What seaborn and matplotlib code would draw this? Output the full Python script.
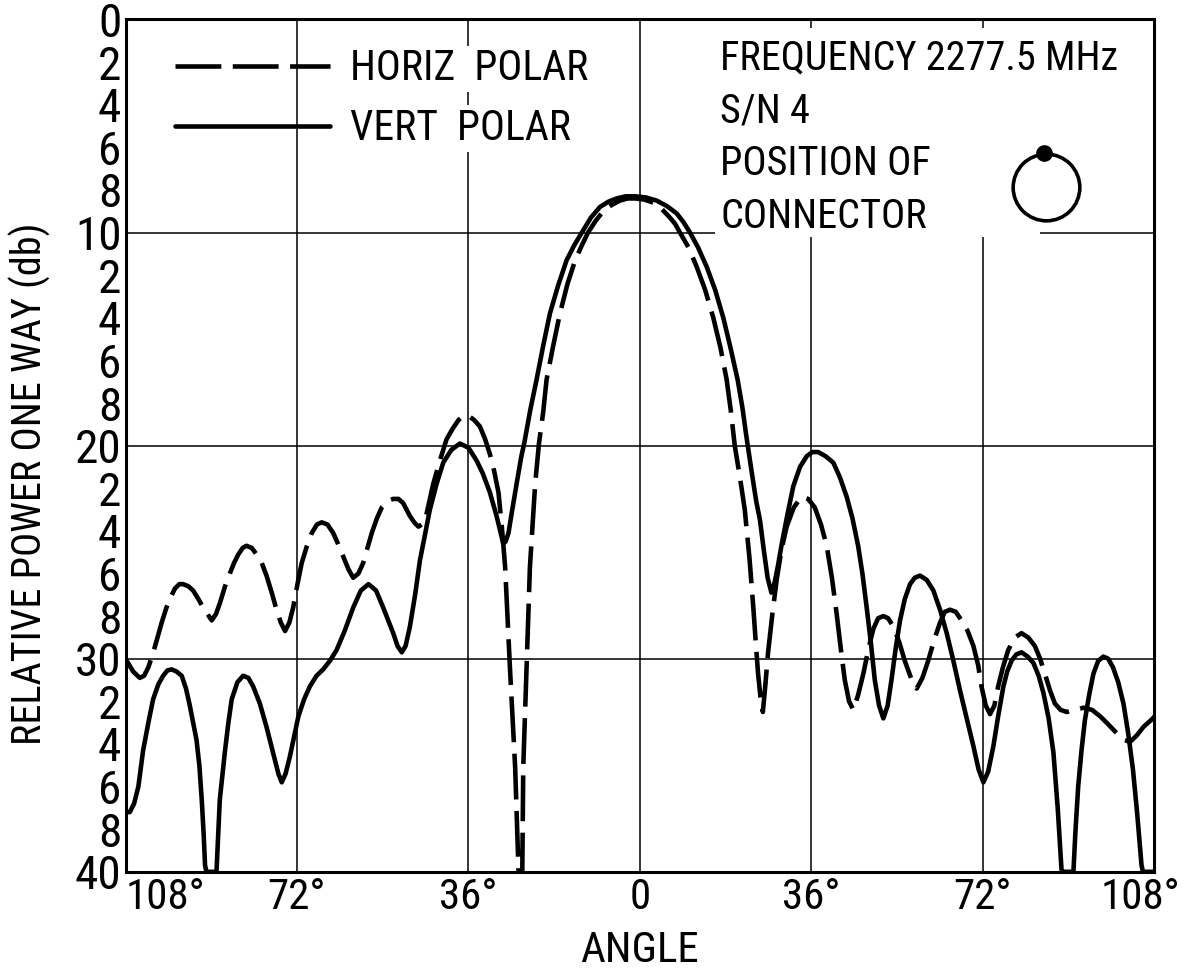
import matplotlib
matplotlib.use("Agg")
import matplotlib.pyplot as plt
import matplotlib.transforms as mtransforms
from matplotlib.patches import Rectangle
import seaborn as sns
import pandas as pd
import numpy as np

# valores (angulo em graus, potencia relativa em db)
vert_angulo = [-108, -107.1, -106.2, -105.3, -104.3, -103.2, -102.2, -101.1, -100.1, -99.2, -98.3,
               -97.3, -96.2, -95.3, -94.5, -93.8, -93.1, -92.5, -92.0, -91.6, -91.3, -91.0, -88.9,
               -88.6, -88.2, -87.1, -86.4, -85.7, -84.5, -83.3, -82.2, -81.2, -79.8, -78.4, -76.8,
               -75.9, -75.2, -74.4, -73.5, -71.7, -70.5, -69.3, -67.9, -66.5, -65.1, -63.7, -62.0,
               -60.2, -58.6, -57.0, -55.4, -53.9, -51.8, -50.9, -50.0, -49.2, -48.3, -47.2, -46.2,
               -44.1, -42.7, -41.3, -39.6, -37.8, -36.0, -34.3, -33.0, -31.5, -30.1, -28.7, -28.2,
               -27.6, -26.8, -25.9, -24.9, -24.3, -23.0, -21.7, -20.3, -18.9, -17.2, -15.4, -13.8,
               -12.2, -10.3, -8.4, -6.6, -4.9, -3.0, -1.0, 1.2, 3.5, 5.6, 7.7, 9.1, 10.5, 12.2,
               14.0, 15.8, 17.5, 19.0, 20.5, 21.5, 22.3, 23.5, 24.4, 25.2, 26.0, 26.8, 27.6, 28.3,
               29.0, 29.7, 30.9, 32.2, 33.6, 35.0, 36.2, 37.4, 39.0, 40.6, 42.0, 43.4, 44.6, 45.8,
               46.7, 47.6, 48.5, 49.3, 50.2, 51.1, 52.0, 52.8, 53.7, 54.6, 55.6, 56.7, 57.7, 58.8,
               60.2, 61.6, 63.0, 64.4, 65.8, 67.2, 68.6, 70.0, 71.1, 72.1, 73.1, 74.2, 75.2, 76.3,
               77.1, 78.0, 79.0, 80.1, 81.4, 82.6, 83.7, 84.7, 85.8, 86.8, 87.7, 88.5, 88.8, 91.0,
               91.4, 92.0, 92.7, 93.4, 94.3, 95.2, 96.2, 97.3, 98.3, 99.3, 100.4, 101.5, 102.5,
               103.5, 104.4, 105.3, 105.6, 108]
vert_db = [37.2, 37.2, 36.8, 36.0, 34.3, 33.0, 31.9, 31.2, 30.8, 30.55, 30.5,
           30.6, 30.8, 31.4, 32.2, 33.0, 33.8, 35.0, 36.6, 38.2, 39.7, 40.0, 40.0,
           38.5, 36.6, 34.3, 33.0, 31.9, 31.1, 30.8, 30.9, 31.3, 32.1, 33.2, 34.6,
           35.4, 35.8, 35.4, 34.6, 32.7, 31.9, 31.3, 30.8, 30.5, 30.1, 29.6, 28.7,
           27.6, 26.8, 26.5, 26.8, 27.6, 28.8, 29.4, 29.7, 29.4, 28.5, 27.0, 25.4,
           23.0, 21.8, 20.8, 20.2, 19.9, 20.1, 20.7, 21.3, 22.2, 23.3, 24.6, 24.5,
           24.1, 23.0, 21.8, 20.5, 19.9, 18.3, 16.9, 15.3, 13.8, 12.5, 11.3, 10.6,
           10.0, 9.3, 8.8, 8.55, 8.4, 8.3, 8.3, 8.35, 8.5, 8.75, 9.1, 9.5, 10.0, 10.7,
           11.6, 12.7, 14.0, 15.4, 16.9, 18.2, 19.5, 21.3, 22.6, 23.5, 24.9, 26.2, 26.9, 26.4,
           25.6, 24.7, 23.3, 21.9, 21.0, 20.5, 20.3, 20.3, 20.5, 20.8, 21.5, 22.4, 23.4, 24.7,
           26.0, 27.6, 29.3, 31.0, 32.2, 32.8, 32.2, 31.0, 29.5, 28.2, 27.2, 26.5, 26.2, 26.1,
           26.3, 26.8, 27.7, 28.8, 30.1, 31.5, 32.8, 34.1, 35.2, 35.8, 35.3, 34.1, 32.7, 31.3,
           30.6, 30.1, 29.8, 29.7, 29.9, 30.2, 30.8, 31.6, 32.8, 34.4, 37.0, 39.9, 40.0, 40.0,
           38.2, 36.0, 34.3, 32.9, 31.7, 30.7, 30.1, 29.9, 30.0, 30.4, 31.1, 32.1, 33.5,
           35.2, 37.3, 39.7, 40.0, 40.0]

horiz_angulo = [-108, -107.2, -106.4, -105.0, -104.1, -103.2, -102.3, -101.4, -100.4, -99.4, -98.5,
                -97.6, -96.7, -95.9, -94.8, -93.8, -92.7, -91.7, -90.8, -89.9, -89.0, -88.2, -87.1,
                -86.1, -85.2, -84.3, -83.4, -82.6, -81.5, -80.5, -79.4, -78.4, -77.3, -76.3, -75.4,
                -74.5, -73.6, -72.8, -71.9, -71.0, -69.9, -68.9, -67.8, -66.8, -65.6, -64.4, -63.4,
                -62.3, -61.2, -60.2, -59.1, -58.1, -57.2, -56.3, -55.2, -54.2, -53.0, -51.8, -50.7,
                -49.7, -48.3, -47.4, -46.5, -45.8, -45.1, -44.3, -43.4, -42.0, -40.6, -39.3, -38.1,
                -37.0, -36.0, -34.8, -33.6, -32.5, -31.5, -30.6, -29.7, -29.0, -28.3, -27.3, -26.2,
                -25.5, -25.3, -24.7, -24.5, -23.8, -23.1, -22.0, -21.2, -20.3, -19.6, -18.2, -16.8,
                -15.2, -13.6, -12.2, -10.9, -9.3, -7.7, -5.9, -4.2, -2.6, -1.0, 0.9, 2.8, 4.6, 6.3,
                7.4, 8.4, 10.2, 11.9, 13.7, 15.4, 16.9, 18.2, 19.1, 19.9, 21.0, 22.0, 23.0, 23.8,
                24.3, 24.8, 25.3, 25.8, 26.3, 26.9, 27.8, 28.7, 29.7, 30.8, 32.3, 33.9, 35.3, 36.7,
                38.0, 39.2, 40.3, 41.3, 42.2, 43.0, 43.9, 44.8, 45.8, 46.9, 48.0, 49.0, 50.0, 51.1,
                52.1, 53.2, 54.4, 55.6, 56.9, 58.1, 59.3, 60.5, 61.8, 63.0, 64.0, 65.1, 66.3, 67.5,
                68.8, 70.0, 71.0, 71.7, 72.6, 73.5, 74.4, 75.2, 76.2, 77.3, 78.7, 80.1, 81.5, 82.9,
                84.0, 85.0, 86.1, 87.1, 88.3, 89.6, 91.3, 93.1, 94.9, 96.6, 98.4, 100.1, 101.5,
                102.9, 104.3, 105.7, 107.7, 108]
horiz_db = [30.0, 30.3, 30.6, 30.9, 30.8, 30.4, 29.8, 29.1, 28.3, 27.6, 27.1,
            26.7, 26.5, 26.5, 26.6, 26.8, 27.2, 27.6, 27.9, 28.2, 27.9, 27.4, 26.6,
            26.0, 25.5, 25.1, 24.8, 24.7, 24.8, 25.1, 25.5, 26.1, 26.9, 27.7, 28.3,
            28.7, 28.3, 27.6, 26.5, 25.5, 24.7, 24.1, 23.7, 23.6, 23.7, 24.1, 24.6,
            25.2, 25.8, 26.2, 26.0, 25.5, 24.8, 24.1, 23.4, 22.9, 22.6, 22.5, 22.5,
            22.7, 23.3, 23.6, 23.8, 23.7, 23.5, 22.7, 21.8, 20.7, 19.7, 19.2, 18.8,
            18.6, 18.6, 18.8, 19.1, 19.7, 20.4, 21.2, 22.2, 23.8, 25.7, 30.4, 35.1,
            39.9, 40.0, 40.0, 35.1, 30.4, 25.7, 21.8, 19.9, 18.4, 16.9, 15.3, 13.8,
            12.4, 11.3, 10.6, 10.0, 9.45, 9.0, 8.7, 8.5, 8.4, 8.4, 8.45, 8.6, 8.9, 9.3,
            9.6, 10.0, 10.7, 11.6, 12.7, 14.0, 15.4, 16.9, 18.4, 20.0, 21.5, 23.0, 25.3, 27.6,
            29.2, 30.7, 31.8, 32.5, 31.3, 29.7, 27.9, 26.3, 24.9, 23.8, 22.9, 22.4, 22.5, 22.9,
            23.7, 24.7, 26.2, 27.9, 29.6, 31.0, 32.0, 32.4, 31.7, 30.7, 29.5, 28.6, 28.1, 28.0,
            28.1, 28.5, 29.2, 30.1, 30.9, 31.4, 30.9, 30.1, 29.1, 28.3, 27.8, 27.7, 27.8, 28.2,
            28.7, 29.4, 30.3, 31.3, 32.2, 32.6, 32.2, 31.3, 30.4, 29.6, 29.0, 28.8, 29.0, 29.4,
            30.0, 30.7, 31.5, 32.1, 32.4, 32.5, 32.4, 32.3, 32.4, 32.7, 33.1, 33.5, 33.8,
            33.9, 33.6, 33.2, 32.8, 32.7]

ticks_x = [-108, -72, -36, 0, 36, 72, 108]
rotulos_x = ['108°', '72°', '36°', '0', '36°', '72°', '108°']
ticks_y = [0, 10, 20, 30, 40]
rotulos_y = ['0', '10', '20', '30', '40']
ticks_y_menores = [v for v in range(2, 40, 2) if v % 10 != 0]
rotulos_y_menores = [str(v % 10) for v in ticks_y_menores]

vert = pd.DataFrame({'angulo': vert_angulo, 'db': vert_db})
horiz = pd.DataFrame({'angulo': horiz_angulo, 'db': horiz_db})

sns.set_style("white")
plt.rcParams['font.family'] = ['Roboto Condensed', 'PT Sans Narrow', 'Archivo Narrow',
                               'Liberation Sans Narrow', 'Roboto', 'DejaVu Sans']
plt.rcParams['text.color'] = 'black'
plt.rcParams['axes.labelcolor'] = 'black'
plt.rcParams['xtick.color'] = 'black'
plt.rcParams['ytick.color'] = 'black'

fig = plt.figure(figsize=(11.84, 9.73), dpi=100)
ax = fig.add_axes([0.106, 0.104, 0.869, 0.876])

sns.lineplot(data=horiz, x='angulo', y='db', ax=ax, color='black', linewidth=3.3,
             label='HORIZ  POLAR', sort=False)
ax.lines[-1].set_dashes((10, 2.5))
sns.lineplot(data=vert, x='angulo', y='db', ax=ax, color='black', linewidth=3.3,
             label='VERT  POLAR', sort=False)

ax.set_xlim(-108, 108)
ax.set_ylim(40, 0)
ax.set_xticks(ticks_x)
ax.set_xticklabels(rotulos_x, fontsize=31)
ax.set_xticks([v for v in range(-96, 108, 12) if v % 36 != 0], minor=True)
ax.set_yticks(ticks_y)
ax.set_yticklabels(rotulos_y, fontsize=34)
ax.set_yticks(ticks_y_menores, minor=True)
ax.set_yticklabels(rotulos_y_menores, minor=True, fontsize=34)
ax.tick_params(axis='x', which='minor', direction='in', length=12, width=1.2)
ax.tick_params(axis='x', which='major', length=0, pad=4)
ax.tick_params(axis='y', which='both', direction='in', length=10, width=1.2, pad=3)

rot_x = ax.get_xticklabels()
rot_x[0].set_horizontalalignment('left')
rot_x[-1].set_horizontalalignment('right')
rot_x[-1].set_transform(rot_x[-1].get_transform() +
                        mtransforms.ScaledTranslation(0.26, 0, fig.dpi_scale_trans))

ax.grid(True, which='major', color='black', linewidth=1.1)
for lado in ax.spines.values():
    lado.set_color('black')
    lado.set_linewidth(2.2)

ax.set_xlabel('ANGLE', fontsize=31)
ax.xaxis.set_label_coords(0.5, -0.068)
ax.set_ylabel('RELATIVE POWER ONE WAY (db)', fontsize=29)
ax.yaxis.set_label_coords(-0.072, 0.455)

leg = ax.legend(loc='upper left', bbox_to_anchor=(0.012, 1.01), frameon=False,
                fontsize=30, handlelength=3.7, labelspacing=0.45, handletextpad=0.5)
for t in leg.get_texts():
    t.set_bbox(dict(facecolor='white', edgecolor='none', pad=2))

# area em branco atras do texto
ax.add_patch(Rectangle((0.573, 0.745), 0.316, 0.245, transform=ax.transAxes,
                       facecolor='white', edgecolor='none', zorder=1))
ax.text(0.578, 0.978, 'FREQUENCY 2277.5 MHz\nS/N 4\nPOSITION OF\nCONNECTOR',
        transform=ax.transAxes, fontsize=29, va='top', ha='left', linespacing=1.45,
        zorder=5)

# simbolo do conector
ax.plot([0.895], [0.803], transform=ax.transAxes, marker='o', markersize=48,
        markerfacecolor='white', markeredgecolor='black', markeredgewidth=2.6, zorder=6)
ax.plot([0.893], [0.843], transform=ax.transAxes, marker='o', markersize=11,
        color='black', zorder=7)

plt.savefig('out.png', dpi=100)
